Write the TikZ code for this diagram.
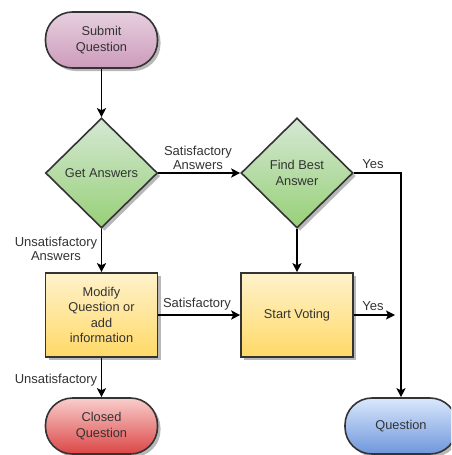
\documentclass[tikz,border=0pt]{standalone}
\usepackage{fontspec}
\setmainfont{Liberation Sans}
\usetikzlibrary{arrows.meta,shapes.geometric,shadows}
\definecolor{txt}{HTML}{333333}
\definecolor{edge}{HTML}{333333}
\tikzset{
  base/.style={draw=edge, line width=1.6pt, text=txt, font=\fontsize{12.8}{15.3}\selectfont, align=center, inner sep=0pt,
    drop shadow={shadow xshift=3pt, shadow yshift=-3pt, fill=black, opacity=0.28}},
  term/.style={base, rectangle, rounded corners=27pt, minimum width=112pt, minimum height=56pt},
  dec/.style={base, diamond, aspect=1, minimum width=112pt, minimum height=110pt, top color={rgb,255:red,213;green,232;blue,212}, bottom color={rgb,255:red,151;green,208;blue,119}},
  proc/.style={base, rectangle, minimum width=112pt, minimum height=84pt, top color={rgb,255:red,255;green,242;blue,204}, bottom color={rgb,255:red,255;green,217;blue,102}},
  arr/.style={draw=black, line width=1.4pt, -{Stealth[length=9pt,width=9pt,inset=2pt]}},
  lab/.style={text=txt, font=\fontsize{13}{14}\selectfont, align=center, inner sep=0pt}
}
\begin{document}
\begin{tikzpicture}[x=1pt,y=-1pt]
\useasboundingbox (0,0) rectangle (451,455);
\clip (0,0) rectangle (451,455);
\node[term, top color={rgb,255:red,230;green,208;blue,222}, bottom color={rgb,255:red,205;green,155;blue,188}] (submit) at (101.5,40) {Submit\\Question};
\node[dec] (get) at (101.5,173) {Get Answers};
\node[dec] (find) at (297,173) {Find Best\\Answer};
\node[proc] (modify) at (101.5,315) {Modify\\Question or\\add\\information};
\node[proc] (vote) at (297,315) {Start Voting};
\node[term, top color={rgb,255:red,248;green,206;blue,204}, bottom color={rgb,255:red,220;green,70;blue,70}] (closed) at (101.5,426) {Closed\\Question};
\node[term, top color={rgb,255:red,218;green,232;blue,252}, bottom color={rgb,255:red,110;green,150;blue,220}] (question) at (401,426) {Question};
\coordinate (yesend) at (395,315);

\draw[arr] (submit) -- (get);
\draw[arr] (get) -- (find);
\draw[arr] (get) -- (modify);
\draw[arr] (find) -- (vote);
\draw[arr] (modify) -- (vote);
\draw[arr] (modify) -- (closed);
\draw[arr] (find.east) -| (question.north);
\draw[arr] (vote) -- (yesend);

\node[lab] (l1) at (198,158) {Satisfactory\\Answers};
\node[lab] (l2) at (56,249) {Unsatisfactory\\Answers};
\node[lab] (l3) at (197,304) {Satisfactory};
\node[lab] (l4) at (56,380) {Unsatisfactory};
\node[lab] (l5) at (373,164) {Yes};
\node[lab] (l6) at (373,306) {Yes};
\end{tikzpicture}
\end{document}
